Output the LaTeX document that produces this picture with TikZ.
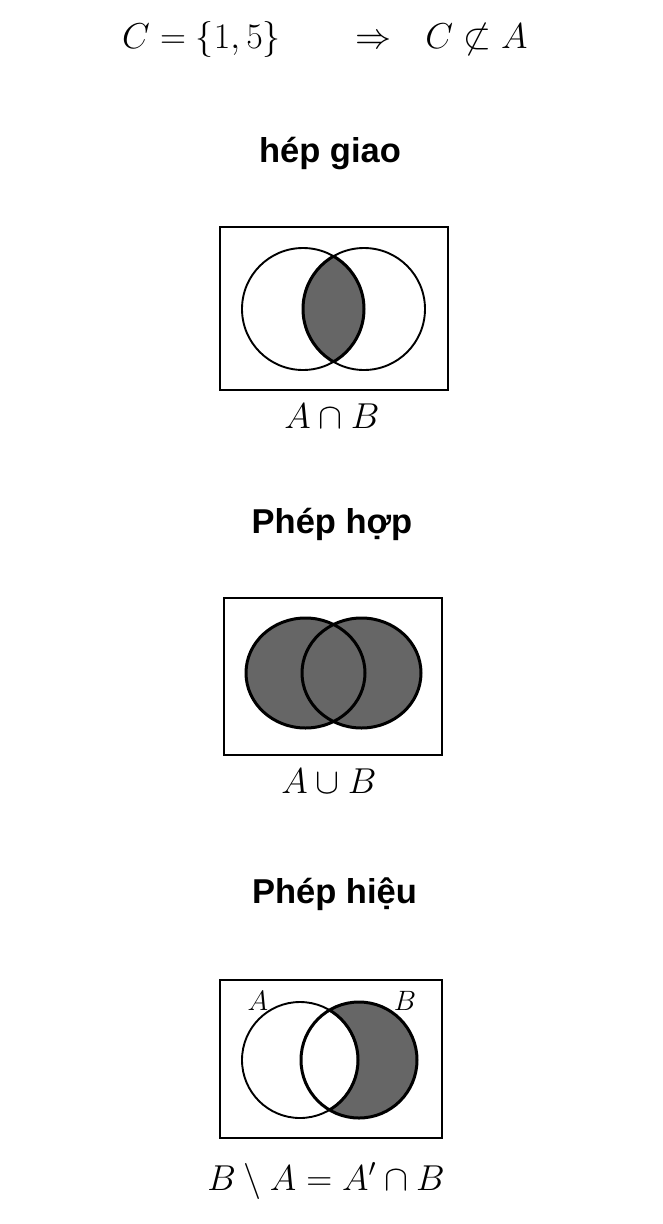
\RequirePackage{fix-cm}
\documentclass[tikz,border=0pt]{standalone}
\usepackage{fontspec}
\newfontfamily\titlefont{Liberation Sans}
\usetikzlibrary{positioning}
\definecolor{ink}{HTML}{000000}
\definecolor{venngray}{HTML}{666666}

\begin{document}
\begin{tikzpicture}[x=1pt, y=-1pt,
          frame/.style={ink, line width=2.4pt},
          ring/.style={ink, line width=1.9pt},
          rim/.style={ink, line width=3pt},
          ttl/.style={anchor=base, inner sep=0pt, font=\titlefont\bfseries\fontsize{34.5}{40}\selectfont},
          eq/.style={anchor=base, inner sep=0pt, font=\fontsize{36}{42}\selectfont},
          tag/.style={anchor=base, inner sep=0pt, font=\fontsize{28}{32}\selectfont}]
        \useasboundingbox (0,0) rectangle (663,1224);
        % top line
        \node[eq] (cset) at (201.5,48) {$C=\{1,5\}$};
        \node[eq] (impl) at (373,48) {$\Rightarrow$};
        \node[eq] (nsub) at (476.5,48) {$C\not\subset A$};
        % intersection
        \node[ttl] (tgiao) at (330,162) {hép giao};
        \draw[frame] (220,227) rectangle (448,390);
        \begin{scope}
          \clip (303,309) circle (61);
          \fill[venngray] (364,309) circle (61);
        \end{scope}
        \draw[ring] (303,309) circle (61) (364,309) circle (61);
        \begin{scope}
          \clip (303,309) circle (61);
          \draw[rim] (364,309) circle (61);
        \end{scope}
        \begin{scope}
          \clip (364,309) circle (61);
          \draw[rim] (303,309) circle (61);
        \end{scope}
        \node[eq] (lgiao) at (332,428) {$A\cap B$};
        % union
        \node[ttl] (thop) at (332,533) {Phép hợp};
        \draw[frame] (224,598) rectangle (442,755);
        \fill[venngray] (305.5,673) ellipse (59.5 and 55) (361.5,673) ellipse (59.5 and 55);
        \draw[rim] (305.5,673) ellipse (59.5 and 55) (361.5,673) ellipse (59.5 and 55);
        \node[eq] (lhop) at (329,793) {$A\cup B$};
        % difference
        \node[ttl] (thieu) at (334.5,903) {Phép hiệu};
        \draw[frame] (220,980) rectangle (442,1138);
        \fill[venngray] (359,1060) circle (58);
        \begin{scope}
          \clip (359,1060) circle (58);
          \fill[white] (300,1060) circle (58);
        \end{scope}
        \draw[ring] (300,1060) circle (58);
        \draw[rim] (359,1060) circle (58);
        \begin{scope}
          \clip (359,1060) circle (58);
          \draw[rim] (300,1060) circle (58);
        \end{scope}
        \node[tag] (na) at (258,1010) {$A$};
        \node[tag] (nb) at (405,1010) {$B$};
        \node[eq] (lhieu) at (326,1190) {$B\setminus A=A'\cap B$};
      \end{tikzpicture}
\end{document}
